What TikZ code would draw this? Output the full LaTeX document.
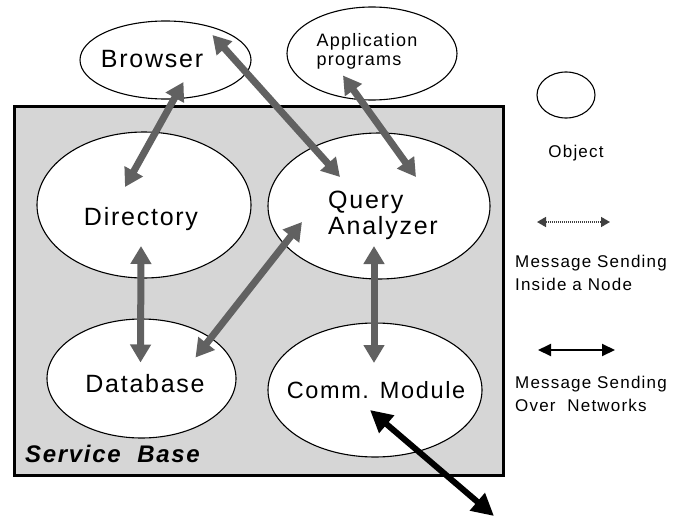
\documentclass[tikz,border=0pt]{standalone}
\usepackage{fontspec}
\setmainfont{Liberation Sans}
\newfontfamily\spacedsans[LetterSpace=7]{Liberation Sans}
\usetikzlibrary{shapes.geometric,arrows.meta}

\begin{document}
\begin{tikzpicture}[x=1pt,y=-1pt,
  obj/.style={ellipse,draw,line width=1.1pt,fill=white,inner sep=0pt},
  lbl/.style={font=\spacedsans\fontsize{25}{26}\selectfont,inner sep=0pt,align=left},
  smalllbl/.style={font=\spacedsans\fontsize{18}{19}\selectfont,inner sep=0pt,align=left},
  legendtxt/.style={font=\spacedsans\fontsize{17}{23}\selectfont,inner sep=0pt,align=left},
  local/.style={line width=7pt,black!62,>={Triangle[length=18pt,width=20pt]},<->},
  remote/.style={line width=6pt,black,>={Triangle[length=22pt,width=22pt]},<->},
  locallegend/.style={line width=1.6pt,black!75,dash pattern=on 1.2pt off 0.8pt,
    >={Triangle[length=9pt,width=10pt]},<->},
  remotelegend/.style={line width=2pt,black,>={Triangle[length=13pt,width=12pt]},<->},
]
\useasboundingbox (0,0) rectangle (685,519);

% service base frame
\draw[line width=3pt,fill=black!16] (14,106) rectangle (503,475);

% objects
\node[obj,minimum width=171pt,minimum height=78pt] (browser) at (165.5,60) {};
\node[obj,minimum width=170pt,minimum height=93pt] (app) at (372,53.5) {};
\node[obj,minimum width=214pt,minimum height=146pt] (directory) at (144,205) {};
\node[obj,minimum width=222pt,minimum height=146pt] (query) at (379,206) {};
\node[obj,minimum width=189pt,minimum height=119pt] (database) at (141.5,378.5) {};
\node[obj,minimum width=214pt,minimum height=134pt] (comm) at (375,390) {};

% labels
\node[lbl] at (152,59) {Browser};
\node[smalllbl] at (367,51) {Application\\programs};
\node[lbl] at (141,219) {Directory};
\node[lbl] at (383,215) {Query\\Analyzer};
\node[lbl] at (145,384) {Database};
\node[lbl,font=\spacedsans\fontsize{23.5}{26}\selectfont] at (376,390) {Comm. Module};
\node[font=\spacedsans\bfseries\itshape\fontsize{24}{26}\selectfont,inner sep=0pt,anchor=base west]
  (sb) at (25,462) {Service\ \ Base};

% message sending inside a node
\draw[local] ([shift={(18,22)}]browser.center) -- ([shift={(-19,-18)}]directory.center);
\draw[local] ([shift={(47,-25)}]browser.center) -- ([shift={(-39,-29)}]query.center);
\draw[local] ([shift={(-29,22)}]app.center) -- ([shift={(37,-29)}]query.center);
\draw[local] ([shift={(-3,41)}]directory.center) -- ([shift={(-1,-16)}]database.center);
\draw[local] ([shift={(54,-21)}]database.center) -- ([shift={(-77,16)}]query.center);
\draw[local] ([shift={(-5,40)}]query.center) -- ([shift={(-1,-27)}]comm.center);

% message sending over networks
\coordinate (net) at (494,516);
\draw[remote] ([shift={(-5,20)}]comm.center) -- (net);

% legend
\node[obj,minimum width=58pt,minimum height=46pt] (legobj) at (566,95) {};
\node[legendtxt] (legobjtxt) at (576,153) {Object};
\coordinate (la) at (537,222);
\coordinate (lb) at (610,222);
\draw[locallegend] (la) -- (lb);
\node[legendtxt,anchor=north west] (legloc) at (515,255) {Message Sending\\Inside a Node};
\coordinate (ra) at (538,350);
\coordinate (rb) at (615,350);
\draw[remotelegend] (ra) -- (rb);
\node[legendtxt,anchor=north west] (legrem) at (515,376) {Message Sending\\Over\ \ Networks};
\end{tikzpicture}
\end{document}
